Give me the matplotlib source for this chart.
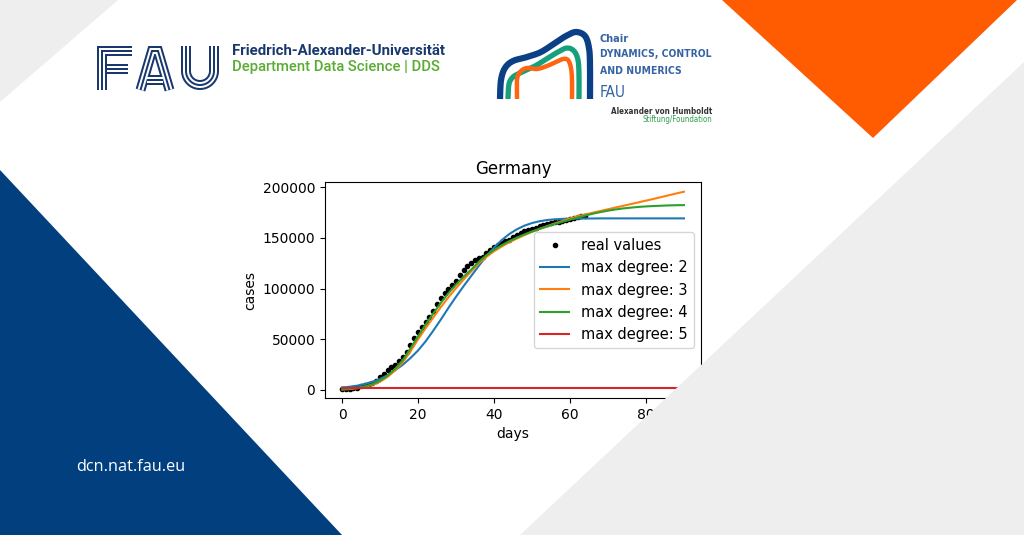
import os
import numpy as np
import matplotlib
matplotlib.use("Agg")
import matplotlib.pyplot as plt
from matplotlib import font_manager as fm
from matplotlib.patches import Polygon

# ---- chart data ----
days_real = list(range(0, 65))
cases_real = [1040, 1176, 1457, 1908, 2078, 3675, 4585, 5795, 7272, 9257,
              12327, 15320, 19848, 22213, 24873, 29056, 32986, 37323, 43938, 50871,
              57695, 62095, 66885, 71808, 77872, 84794, 91159, 96092, 100123, 103374,
              107663, 113296, 118181, 122171, 124908, 127854, 130072, 131359, 134753, 137698,
              141397, 143342, 145184, 147065, 148291, 150648, 153129, 154999, 156513, 157770,
              158758, 159912, 161539, 163009, 164077, 164967, 165664, 166152, 167007, 168162,
              168551, 169575, 170508, 171324, 171879]

fit_days = list(range(0, 91, 2))
fit_deg2 = [2500, 3200, 4300, 5900, 8000, 10800, 14600, 19500, 25000, 31500,
            39000, 48000, 58500, 69500, 81000, 92000, 102500, 112500, 122500, 132000,
            140500, 147800, 153800, 158500, 162100, 164700, 166500, 167700, 168400, 168800,
            169000, 169100, 169200, 169200, 169300, 169300, 169300, 169300, 169300, 169300,
            169300, 169300, 169300, 169300, 169300, 169300]
fit_deg3 = [500, 900, 1700, 3000, 5000, 8200, 13000, 19500, 27500, 38000,
            50000, 61000, 71500, 81800, 91500, 100500, 109000, 117000, 125000, 131300,
            136800, 141500, 145700, 149400, 152800, 155900, 158900, 161700, 164300, 166800,
            169200, 171400, 173200, 174900, 176600, 178300, 180000, 181700, 183400, 185100,
            186800, 188500, 190300, 192100, 193900, 195600]
fit_deg4 = [800, 1300, 2200, 3600, 5800, 9200, 14200, 21000, 29500, 41000,
            53000, 64500, 75500, 86000, 95500, 104000, 111800, 118800, 126500, 133000,
            138300, 142800, 146800, 150300, 153500, 156400, 159000, 161400, 163700, 165900,
            168000, 170100, 172100, 173900, 175500, 176900, 178100, 179100, 179900, 180600,
            181100, 181500, 181800, 182100, 182300, 182400]
deg5_days = [0, 90]
fit_deg5 = [1700, 1700]

labels = ['max degree: 2', 'max degree: 3', 'max degree: 4', 'max degree: 5']

# ---- banner decoration (pixel coordinates) ----
GRAY = '#eeeeee'
NAVY = '#023f7f'
ORANGE = '#ff5b00'
FAU_BLUE = '#18386e'
DDS_GREEN = '#5aac33'
DCN_BLUE = '#3563a3'

fau_paths = [
    ([132, 102, 102], [51, 51, 90]),                 # F stem + top
    ([107, 128], [69, 69]),                          # F middle bar
    ([140.5, 152, 158, 169.5], [90, 51, 51, 90]),    # A
    ([147, 163], [80, 80]),                          # A bar
]
u_ang = np.linspace(np.pi, 2 * np.pi, 30)
fau_paths.append(([186] + list(200 + 14 * np.cos(u_ang)) + [214],
                  [46] + list(71 - 14 * np.sin(u_ang)) + [46]))

arch_blue = [(500, 99), (501, 80), (505, 68), (513, 61), (527, 57), (541, 52), (555, 43),
             (566, 36), (576, 32), (585, 36), (589, 48), (590, 65), (590, 99)]
arch_teal = [(508, 99), (509, 84), (513, 77), (520, 73), (535, 66), (548, 58), (558, 52),
             (567, 48), (574, 51), (578, 60), (579, 75), (579, 99)]
arch_orange = [(517, 99), (517, 80), (520, 72), (527, 68), (537, 69), (547, 66), (556, 62),
               (563, 59), (568, 60), (571, 68), (572, 80), (572, 99)]


def smooth(pts, n=12):
    p = np.array(pts, dtype=float)
    p = np.vstack([p[0], p, p[-1]])
    out = []
    for i in range(1, len(p) - 2):
        p0, p1, p2, p3 = p[i - 1], p[i], p[i + 1], p[i + 2]
        for t in np.linspace(0, 1, n, endpoint=False):
            out.append(0.5 * ((2 * p1) + (-p0 + p2) * t + (2 * p0 - 5 * p1 + 4 * p2 - p3) * t ** 2
                              + (-p0 + 3 * p1 - 3 * p2 + p3) * t ** 3))
    out.append(p[-2])
    return np.array(out)


def find_font(keys, bold):
    for f in fm.fontManager.ttflist:
        fn = os.path.basename(f.fname).lower()
        if any(k in fn for k in keys) and (('bold' in fn) == bold) \
                and 'italic' not in fn and 'oblique' not in fn:
            return f.fname
    return None


def narrow_props(bold):
    path = find_font(['narrow', 'condensed'], bold)
    if path:
        return fm.FontProperties(fname=path)
    return fm.FontProperties(family='DejaVu Sans', weight='bold' if bold else 'normal')


fig = plt.figure(figsize=(10.24, 5.35), dpi=100)
renderer = fig.canvas.get_renderer()


def fit_width(t, target):
    # scale the font so the text spans the width seen in the picture
    w = t.get_window_extent(renderer).width
    t.set_fontsize(t.get_fontsize() * target / w)


bg = fig.add_axes([0, 0, 1, 1], zorder=0)
bg.set_xlim(0, 1024)
bg.set_ylim(535, 0)
bg.axis('off')
bg.add_patch(Polygon([(0, 0), (118, 0), (0, 102)], closed=True, color=GRAY, lw=0))
bg.add_patch(Polygon([(722, 0), (1017, 0), (873, 138)], closed=True, color=ORANGE, lw=0))

# FAU logo: triple lines
for lw, c in ((10, FAU_BLUE), (6, 'white'), (2, FAU_BLUE)):
    for xs, ys in fau_paths:
        bg.plot(xs, ys, color=c, lw=lw * 0.72, solid_capstyle='butt', solid_joinstyle='miter')

t = bg.text(232, 51, 'Friedrich-Alexander-Universität', color=FAU_BLUE, fontsize=10,
            fontweight='bold', family=['Roboto', 'DejaVu Sans'], va='center', ha='left')
fit_width(t, 213)
t = bg.text(232, 67, 'Department Data Science | DDS', color=DDS_GREEN, fontsize=10,
            fontweight='medium', family=['Roboto', 'DejaVu Sans'], va='center', ha='left')
fit_width(t, 206)

# DCN logo arches
for pts, c, lw in ((arch_blue, '#0b3f86', 4.5), (arch_teal, '#17a07c', 3.8), (arch_orange, '#ff6410', 3.2)):
    s = smooth(pts)
    bg.plot(s[:, 0], s[:, 1], color=c, lw=lw, solid_capstyle='butt')

nb = narrow_props(True)
nr = narrow_props(False)
dcn_texts = [('Chair', 599.5, 42, 29, DCN_BLUE, nb, 'left'),
             ('DYNAMICS, CONTROL', 599.5, 57, 111.5, DCN_BLUE, nb, 'left'),
             ('AND NUMERICS', 599.5, 73.7, 81.5, DCN_BLUE, nb, 'left'),
             ('FAU', 599.5, 97, 26, DCN_BLUE, nr, 'left'),
             ('Alexander von Humboldt', 712, 113.7, 100.5, '#333333', nb, 'right'),
             ('Stiftung/Foundation', 712, 122, 69.5, '#2e9e4a', nr, 'right')]
for s, x, y, w, c, fp, ha in dcn_texts:
    t = bg.text(x, y, s, color=c, fontproperties=fp, fontsize=8, va='baseline', ha=ha)
    fit_width(t, w)

# ---- the chart ----
ax = fig.add_axes([325 / 1024, 1 - 398 / 535, 376 / 1024, 216 / 535], zorder=1)
ax.plot(days_real, cases_real, 'k.', label='real values')
ax.plot(fit_days, fit_deg2, label=labels[0])
ax.plot(fit_days, fit_deg3, label=labels[1])
ax.plot(fit_days, fit_deg4, label=labels[2])
ax.plot(deg5_days, fit_deg5, label=labels[3])
ax.set_xlim(-4.5, 94.5)
ax.set_ylim(-7900, 205200)
ax.set_title('Germany')
ax.set_xlabel('days')
ax.set_ylabel('cases')
ax.legend(loc='center right', fontsize=10.5)

# ---- overlay shapes on top of the chart ----
top = fig.add_axes([0, 0, 1, 1], zorder=3)
top.set_xlim(0, 1024)
top.set_ylim(535, 0)
top.axis('off')
top.patch.set_alpha(0)
top.add_patch(Polygon([(0, 170), (0, 535), (342, 535)], closed=True, color=NAVY, lw=0))
top.add_patch(Polygon([(520, 535), (1024, 62), (1024, 535)], closed=True, color=GRAY, lw=0))
t = top.text(130.5, 467, 'dcn.nat.fau.eu', color='white', fontsize=11,
             family=['Open Sans', 'DejaVu Sans'], ha='center', va='center')
fit_width(t, 109)

fig.savefig('out.png', dpi=100)
